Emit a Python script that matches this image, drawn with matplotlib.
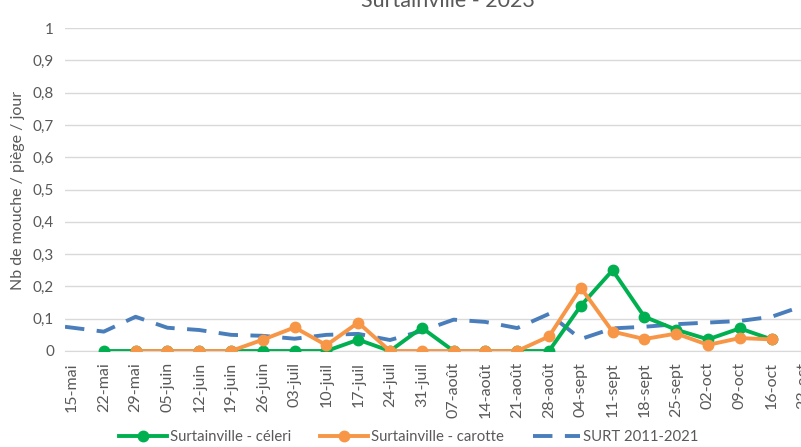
import matplotlib.pyplot as plt
import numpy as np

plt.rcParams['font.family'] = ['Lato', 'DejaVu Sans']

semaines = ['15-mai', '22-mai', '29-mai', '05-juin', '12-juin', '19-juin', '26-juin',
            '03-juil', '10-juil', '17-juil', '24-juil', '31-juil', '07-août', '14-août',
            '21-août', '28-août', '04-sept', '11-sept', '18-sept', '25-sept', '02-oct',
            '09-oct', '16-oct', '23-oct']

# None = pas de relevé
celeri = [None, 0, 0, 0, 0, 0, 0, 0, 0, 0.035, 0, 0.072, 0, 0, 0, 0,
          0.14, 0.25, 0.106, 0.066, 0.036, 0.07, 0.036, None]
carotte = [None, None, 0, 0, 0, 0, 0.035, 0.073, 0.018, 0.088, 0, 0, 0, 0, 0, 0.045,
           0.196, 0.06, 0.037, 0.054, 0.019, 0.04, 0.036, None]

# la moyenne 2011-2021 commence un peu avant le 15 mai (position en semaines)
semaine_surt = [-0.22, 1, 2, 3, 4, 5, 6, 7, 8, 9, 10, 11, 12, 13, 14, 15, 16, 17, 18,
                19, 20, 21, 22, 23]
surt_2011_2021 = [0.075, 0.06, 0.106, 0.072, 0.065, 0.05, 0.047, 0.038, 0.05, 0.053,
                  0.034, 0.062, 0.097, 0.09, 0.071, 0.115, 0.037, 0.07, 0.075, 0.083,
                  0.088, 0.093, 0.106, 0.14]

def en_tableau(valeurs):
    return np.array([np.nan if v is None else v for v in valeurs], dtype=float)

x = np.arange(len(semaines))
gris = '#595959'

fig = plt.figure(figsize=(8.01, 4.47), dpi=100)
# l'axe depasse a droite : le graphique d'origine est rogne
ax = fig.add_axes([65/801, 1 - 351/447, 760/801, (351 - 28)/447])

l_bleu, = ax.plot(semaine_surt, surt_2011_2021, color='#4a7ebb', lw=2.8, dashes=(5, 3.2),
                  label='SURT 2011-2021', zorder=2)
l_vert, = ax.plot(x, en_tableau(celeri), color='#00b050', lw=2.8, marker='o', ms=7.5,
                  label='Surtainville - céleri', zorder=3)
l_orange, = ax.plot(x, en_tableau(carotte), color='#f79646', lw=2.8, marker='o', ms=7.5,
                    label='Surtainville - carotte', zorder=4)

ax.set_xlim(-0.22, -0.22 + 760/31.8)
ax.set_ylim(0, 1)
ax.set_yticks(np.arange(0, 1.01, 0.1))
ax.set_yticklabels(['0'] + [f'{v:.1f}'.replace('.', ',') for v in np.arange(0.1, 0.95, 0.1)] + ['1'])
ax.set_xticks(x)
ax.set_xticklabels(semaines, rotation=90)
ax.tick_params(axis='both', colors=gris, labelsize=11, length=0, pad=8)
ax.tick_params(axis='x', labelsize=11.5, pad=8)
ax.grid(axis='y', color='#d9d9d9', lw=1)
ax.set_axisbelow(True)
for cote in ['top', 'right', 'left']:
    ax.spines[cote].set_visible(False)
ax.spines['bottom'].set_color('#d9d9d9')
ax.spines['bottom'].set_zorder(1)

fig.text(18/801, 1 - 190/447, 'Nb de mouche / piège / jour', rotation=90,
         ha='center', va='center', color=gris, fontsize=11.5)
fig.text(448/801, 1 - 7/447, 'Surtainville - 2023', ha='center', va='baseline',
         color=gris, fontsize=15.5)

fig.legend(handles=[l_vert, l_orange, l_bleu], loc='center', ncol=3,
           bbox_to_anchor=(409/801, 1 - 437/447), frameon=False, fontsize=10.7,
           handlelength=3.2, handletextpad=0.2, columnspacing=1.95, labelcolor=gris,
           borderpad=0, borderaxespad=0)

fig.savefig('out.png', dpi=100)
